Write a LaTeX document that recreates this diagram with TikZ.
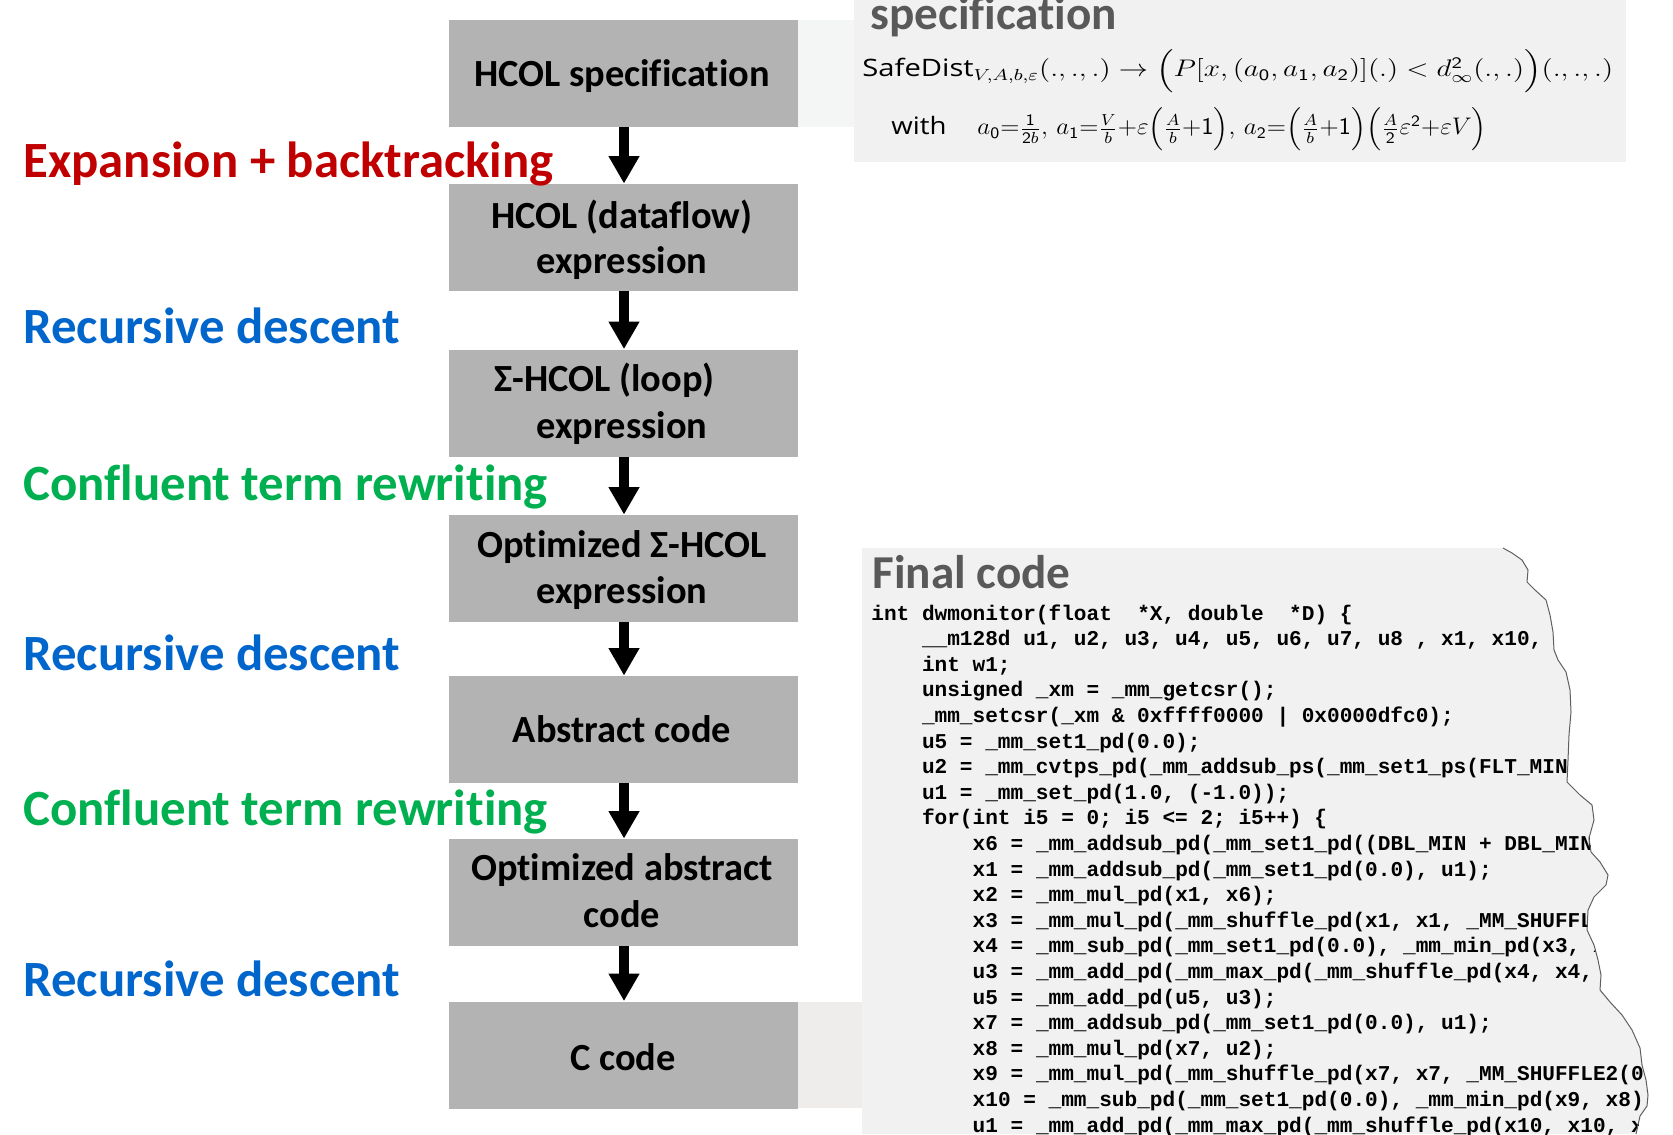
\documentclass[tikz,border=0pt]{standalone}
\usepackage{amsmath}
\usepackage{graphicx}
\usepackage{fontspec}
\setmainfont{Carlito}[Ligatures=NoCommon]
\setmonofont{Liberation Mono}
\newfontfamily\specsans{Open Sans}
\usetikzlibrary{arrows.meta}

\definecolor{boxgray}{RGB}{179,179,179}
\definecolor{panelgray}{RGB}{241,241,241}
\definecolor{bridgetop}{RGB}{244,245,245}
\definecolor{bridgebot}{RGB}{238,237,235}
\definecolor{headgray}{RGB}{89,89,89}
\definecolor{edgegray}{RGB}{95,95,95}
\definecolor{stepred}{RGB}{192,0,0}
\definecolor{stepblue}{RGB}{0,102,204}
\definecolor{stepgreen}{RGB}{0,176,80}

% sans-serif digits inside the formulas
\newcommand\sd[1]{\mathsf{#1}}

% right-hand torn edge of the code listing
\newcommand\tornedge{(1503,548) -- (1512,553) -- (1522,560) -- (1528,570) -- (1527,582)
  -- (1535,590) -- (1546,600) -- (1550,615) -- (1553,632) -- (1554,650) -- (1558,660)
  -- (1566,672) -- (1570,690) -- (1571,712) -- (1569,735) -- (1568,760) -- (1567,782)
  -- (1580,795) -- (1592,805) -- (1594,820) -- (1589,838) -- (1591,852) -- (1600,862)
  -- (1608,875) -- (1606,885) -- (1594,897) -- (1588,910) -- (1587,930) -- (1594,945)
  -- (1598,960) -- (1601,975) -- (1600,990) -- (1610,1002) -- (1622,1015) -- (1632,1030)
  -- (1640,1048) -- (1642,1065) -- (1646,1080) -- (1648,1095) -- (1647,1106)
  -- (1640,1116) -- (1636,1134)}

\tikzset{
  stage/.style={rectangle, fill=boxgray, minimum width=174.5pt, minimum height=53.5pt, inner sep=0pt},
  stagetext/.style={font=\bfseries\fontsize{19.2}{23}\selectfont, inner sep=0pt, anchor=base},
  steplabel/.style={font=\bfseries\fontsize{25.4}{30}\selectfont, inner sep=0pt, anchor=base west},
  panelhead/.style={font=\bfseries\fontsize{23.6}{28}\selectfont, text=headgray, inner sep=0pt, anchor=base west},
  spectext/.style={font=\fontsize{12}{14}\selectfont, inner sep=0pt, anchor=base west},
  codeline/.style={font=\ttfamily\bfseries\fontsize{10.55}{12.8}\selectfont, inner sep=0pt, anchor=base west},
  flow/.style={line width=5pt, -{Triangle[width=14.5pt,length=13.7pt]}},
  tornline/.style={draw=edgegray, line width=0.5pt, line join=round}
}

\begin{document}
\begin{tikzpicture}[x=0.5pt, y=-0.5pt]
\useasboundingbox (0,0) rectangle (1673,1134);

% specification panel
\fill[panelgray] (854,0) rectangle (1626,162);
\fill[bridgetop] (798,20) rectangle (854,127);
\node[panelhead] (spechead) at (870,30) {specification};
\node[spectext] (spec1) at (862,77) {\scalebox{1.215}[1]{{\specsans SafeDist}$_{V,A,b,\varepsilon}(.,.,.)\to\Bigl(P[x,(a_{\sd0},a_{\sd1},a_{\sd2})](.)<d^{\sd2}_\infty(.,.)\Bigr)(.,.,.)$}};
\node[spectext] (specwith) at (891,135) {\scalebox{1.15}[1]{\specsans with}};
\node[spectext] (spec2) at (977,135) {\scalebox{1.05}[1]{$a_{\sd0}{=}\frac{\sd1}{\sd2b},\, a_{\sd1}{=}\frac{V}{b}{+}\varepsilon\Bigl(\frac{A}{b}{+}\sd1\Bigr),\, a_{\sd2}{=}\Bigl(\frac{A}{b}{+}\sd1\Bigr)\Bigl(\frac{A}{\sd2}\varepsilon^{\sd2}{+}\varepsilon V\Bigr)$}};

% final code panel
\fill[bridgebot] (798,1002) rectangle (863,1108);
\fill[panelgray] \tornedge -- (862,1134) -- (862,548) -- cycle;
\begin{scope}
  \clip \tornedge -- (862,1134) -- (862,548) -- cycle;
  \node[panelhead] (codehead) at (872,588) {Final code};
  \node[codeline] (c1)  at (871,620)    {int dwmonitor(float\ \ *X, double\ \ *D) \{};
  \node[codeline] (c2)  at (921.6,645.6) {\_\_m128d u1, u2, u3, u4, u5, u6, u7, u8 , x1, x10,};
  \node[codeline] (c3)  at (921.6,671.2) {int w1;};
  \node[codeline] (c4)  at (921.6,696.8) {unsigned \_xm = \_mm\_getcsr();};
  \node[codeline] (c5)  at (921.6,722.4) {\_mm\_setcsr(\_xm \& 0xffff0000 | 0x0000dfc0);};
  \node[codeline] (c6)  at (921.6,748)   {u5 = \_mm\_set1\_pd(0.0);};
  \node[codeline] (c7)  at (921.6,773.6) {u2 = \_mm\_cvtps\_pd(\_mm\_addsub\_ps(\_mm\_set1\_ps(FLT\_MIN, FLT\_MIN)));};
  \node[codeline] (c8)  at (921.6,799.2) {u1 = \_mm\_set\_pd(1.0, (-1.0));};
  \node[codeline] (c9)  at (921.6,824.8) {for(int i5 = 0; i5 <= 2; i5++) \{};
  \node[codeline] (c10) at (972.3,850.4) {x6 = \_mm\_addsub\_pd(\_mm\_set1\_pd((DBL\_MIN + DBL\_MIN)));};
  \node[codeline] (c11) at (972.3,876)   {x1 = \_mm\_addsub\_pd(\_mm\_set1\_pd(0.0), u1);};
  \node[codeline] (c12) at (972.3,901.6) {x2 = \_mm\_mul\_pd(x1, x6);};
  \node[codeline] (c13) at (972.3,927.2) {x3 = \_mm\_mul\_pd(\_mm\_shuffle\_pd(x1, x1, \_MM\_SHUFFLE2(0, 1)));};
  \node[codeline] (c14) at (972.3,952.8) {x4 = \_mm\_sub\_pd(\_mm\_set1\_pd(0.0), \_mm\_min\_pd(x3, x2));};
  \node[codeline] (c15) at (972.3,978.4) {u3 = \_mm\_add\_pd(\_mm\_max\_pd(\_mm\_shuffle\_pd(x4, x4, x4)));};
  \node[codeline] (c16) at (972.3,1004)  {u5 = \_mm\_add\_pd(u5, u3);};
  \node[codeline] (c17) at (972.3,1029.6) {x7 = \_mm\_addsub\_pd(\_mm\_set1\_pd(0.0), u1);};
  \node[codeline] (c18) at (972.3,1055.2) {x8 = \_mm\_mul\_pd(x7, u2);};
  \node[codeline] (c19) at (972.3,1080.8) {x9 = \_mm\_mul\_pd(\_mm\_shuffle\_pd(x7, x7, \_MM\_SHUFFLE2(0, 1)));};
  \node[codeline] (c20) at (972.3,1106.4) {x10 = \_mm\_sub\_pd(\_mm\_set1\_pd(0.0), \_mm\_min\_pd(x9, x8));};
  \node[codeline] (c21) at (972.3,1132)  {u1 = \_mm\_add\_pd(\_mm\_max\_pd(\_mm\_shuffle\_pd(x10, x10, x10)));};
\end{scope}
\draw[tornline] \tornedge;

% pipeline stages
\node[stage] (b1) at (623.5,73.5)  {};
\node[stage] (b2) at (623.5,237.5) {};
\node[stage] (b3) at (623.5,403)   {};
\node[stage] (b4) at (623.5,568.5) {};
\node[stage] (b5) at (623.5,729.5) {};
\node[stage] (b6) at (623.5,892.5) {};
\node[stage] (b7) at (623.5,1055)  {};

\node[stagetext] (t1)  at (622,87)    {HCOL specification};
\node[stagetext] (t2a) at (622,228)   {HCOL (dataflow)};
\node[stagetext] (t2b) at (622,273)   {expression};
\node[stagetext] (t3a) at (604.5,391.5) {Σ-HCOL (loop)};
\node[stagetext] (t3b) at (622,438)   {expression};
\node[stagetext] (t4a) at (622,557)   {Optimized Σ-HCOL};
\node[stagetext] (t4b) at (622,603)   {expression};
\node[stagetext] (t5)  at (622,742)   {Abstract code};
\node[stagetext] (t6a) at (622,880)   {Optimized abstract};
\node[stagetext] (t6b) at (622,927)   {code};
\node[stagetext] (t7)  at (623,1070)  {C code};

% transformations between stages
\foreach \a/\b in {b1/b2, b2/b3, b3/b4, b4/b5, b5/b6, b6/b7}
  \draw[flow] ([xshift=0.25pt]\a.south) -- ([xshift=0.25pt]\b.north);

\node[steplabel, text=stepred]   (s1) at (23,177) {Expansion + backtracking};
\node[steplabel, text=stepblue]  (s2) at (23,343) {Recursive descent};
\node[steplabel, text=stepgreen] (s3) at (23,500) {Confluent term rewriting};
\node[steplabel, text=stepblue]  (s4) at (23,670) {Recursive descent};
\node[steplabel, text=stepgreen] (s5) at (23,825) {Confluent term rewriting};
\node[steplabel, text=stepblue]  (s6) at (23,996) {Recursive descent};
\end{tikzpicture}
\end{document}
